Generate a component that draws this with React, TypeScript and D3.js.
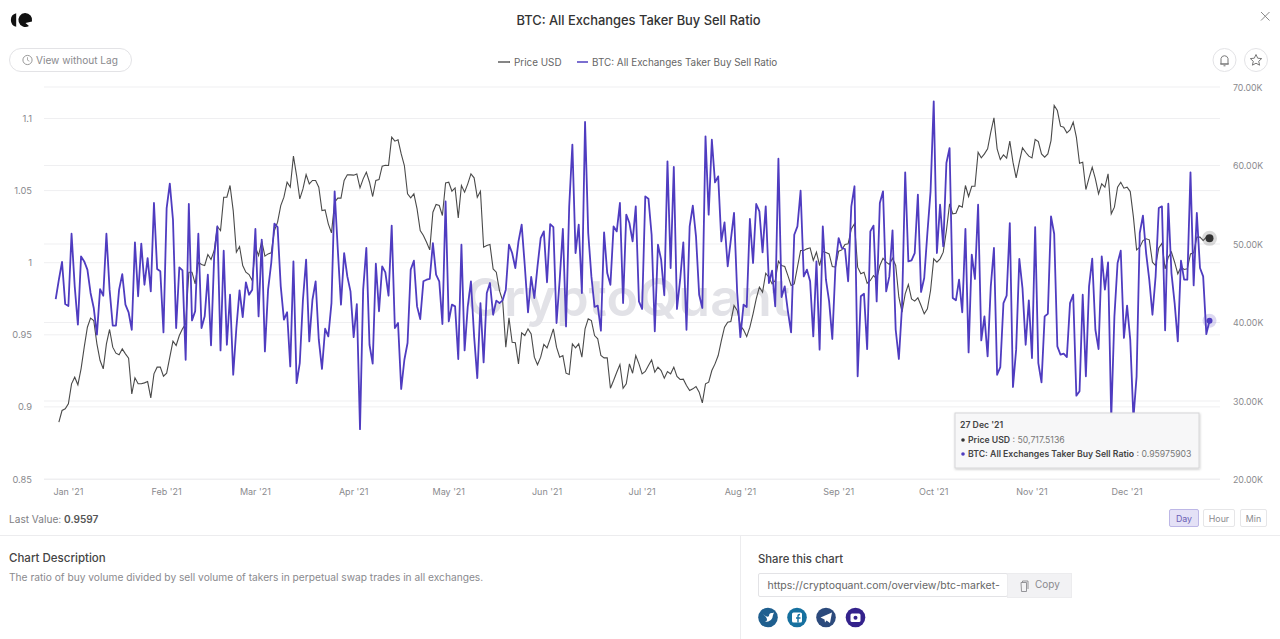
import React from "react";
import * as d3 from "d3";

const ratioValues = [
0.9748,0.9882,1.0005,0.9713,0.9700,1.0201,0.9836,0.9570,1.0044,1.0009,0.9952,0.9790,0.9686,0.9501,0.9817,0.9771,1.0201,0.9813,0.9563,0.9563,
0.9813,0.9921,0.9709,0.9656,0.9535,1.0141,0.9767,1.0132,0.9847,1.0032,0.9801,1.0414,0.9956,0.9940,0.9517,1.0379,1.0548,1.0298,0.9547,0.9968,
0.9947,0.9327,1.0407,0.9600,0.9663,1.0201,0.9547,0.9628,0.9917,0.9427,1.0044,1.0252,0.9392,1.0083,0.9431,0.9778,0.9223,0.9547,0.9808,0.9623,
0.9864,0.9778,0.9813,1.0234,0.9628,1.0160,0.9385,0.9813,0.9998,1.0271,1.0247,0.9836,0.9605,0.9656,0.9281,1.0009,0.9165,0.9304,0.9743,1.0021,
0.9454,0.9743,0.9871,0.9466,0.9263,0.9542,0.9489,0.9720,1.0495,
1.0090,0.9709,1.0067,0.9905,0.9801,0.9484,0.9713,0.8846,0.9813,1.0102,0.9431,0.9300,0.9993,0.9663,0.9975,0.9933,0.9771,1.0257,0.9547,0.9582,
0.9124,0.9327,0.9443,0.9952,1.0014,0.9697,0.9609,0.9871,0.9882,0.9887,1.0136,0.9917,0.9871,0.9575,1.0425,0.9593,0.9709,0.9697,0.9332,1.0125,
0.9392,0.9697,0.9871,0.9489,0.9200,0.9720,0.9309,0.9790,0.9859,0.9639,0.9737,0.9720,0.9739,0.9813,1.0125,1.0067,0.9963,1.0148,1.0264,0.9975,
0.9656,0.9901,0.9755,0.9975,1.0171,1.0217,0.9864,1.0268,1.0247,0.9582,0.9882,1.0234,0.9558,1.0391,1.0819,1.0067,1.0264,0.9790,1.0976,1.0206,
0.9905,0.9693,0.9702,0.9528,1.0210,0.9928,0.9847,1.0252,1.0217,1.0414,0.9720,1.0333,1.0275,
1.0148,1.0391,0.9732,0.9679,1.0460,1.0444,1.0194,0.9524,1.0125,1.0021,0.9774,1.0703,0.9963,1.0664,0.9679,0.9882,1.0141,0.9535,1.0252,1.0395,
1.0183,0.9778,0.9686,1.0876,1.0333,1.0853,1.0557,1.0599,1.0148,1.0280,0.9975,1.0160,1.0345,0.9790,0.9484,0.9709,0.9693,1.0303,0.9998,1.0407,
1.0356,1.0072,1.0391,0.9859,0.9945,0.9697,1.0721,0.9762,0.9836,0.9663,0.9517,1.0194,1.0252,1.0499,0.9905,0.9952,0.9871,0.9489,1.0009,0.9397,
1.0252,0.9882,0.9732,0.9471,0.9975,1.0171,1.0102,1.0095,0.9871,1.0391,1.0530,0.9212,0.9767,0.9785,0.9401,1.0217,1.0257,0.9732,1.0414,1.0495,
0.9801,0.9905,1.0224,0.9535,0.9332,0.9697,1.0627,1.0009,1.0016,1.0067,1.0472,
0.9797,0.9894,1.0206,1.0495,1.1119,1.0067,1.0402,1.0113,1.0691,1.0795,0.9755,0.9739,0.9882,0.9656,1.0234,0.9378,1.0056,0.9887,1.0402,0.9461,
0.9628,0.9350,0.9836,1.0102,0.9223,0.9276,0.9720,0.9771,1.0275,0.9138,0.9397,1.0026,0.9824,0.9431,0.9739,0.9339,1.0247,0.9304,0.9170,0.9628,
0.9646,1.0321,1.0201,0.9420,0.9362,0.9369,0.9346,0.9720,0.9778,0.9078,0.9108,0.9778,0.9212,0.9836,1.0028,0.9535,0.9401,1.0044,0.9813,1.0002,
0.8920,0.9628,0.9998,1.0083,0.9478,0.9702,0.9466,0.8920,0.9212,1.0206,1.0326,1.0067,0.9882,0.9639,0.9905,1.0379,1.0391,0.9531,1.0409,0.9928,
0.9720,0.9454,1.0014,0.9882,0.9882,1.0627,0.9843,1.0345,0.9963,0.9905,0.9505,0.95975903,
];

const priceKValues = [
27.30,28.79,29.00,29.64,32.19,33.03,32.06,34.10,36.86,39.40,40.55,40.25,37.28,35.16,34.10,37.28,39.11,36.86,36.09,35.88,
36.64,36.01,35.45,30.91,32.95,32.19,32.19,32.31,32.48,30.40,33.46,34.31,34.31,33.16,33.54,35.58,37.62,37.07,38.34,39.19,
39.83,46.41,46.41,44.92,47.68,47.39,47.26,48.66,48.02,49.17,52.23,51.72,55.96,55.96,57.45,54.26,48.96,49.68,47.26,46.41,
46.11,45.35,49.59,48.53,50.36,48.45,48.74,48.87,51.72,52.78,54.90,55.96,57.87,57.24,61.19,58.72,55.75,57.02,58.85,57.66,
58.09,58.09,57.24,54.26,54.35,52.57,51.42,55.33,55.84,
55.84,58.09,58.81,58.81,58.77,58.93,57.15,58.30,59.15,57.87,56.05,58.09,58.21,59.91,60.04,60.00,63.61,63.10,63.27,61.48,
60.00,56.39,55.88,56.39,54.48,51.72,51.08,50.23,49.25,54.05,55.03,54.90,53.63,57.79,57.87,56.73,57.15,53.33,57.45,56.60,
57.66,58.93,58.43,55.96,56.73,49.59,49.81,49.93,46.83,46.41,44.07,42.80,36.86,40.59,37.49,37.41,34.73,38.68,38.34,39.19,
38.55,35.58,34.61,35.58,37.20,36.77,37.92,39.19,36.86,35.58,35.79,33.54,33.37,37.28,36.77,37.28,35.58,39.19,40.46,40.25,
38.34,37.92,35.79,35.50,35.50,31.63,32.61,33.67,34.65,31.63,32.19,34.73,
33.54,35.79,34.73,33.46,33.76,34.52,35.24,33.67,34.31,33.88,32.91,33.76,33.46,34.31,33.12,32.74,32.78,31.97,31.34,31.55,
31.85,31.12,29.76,32.19,32.40,33.88,34.73,35.79,37.70,39.40,40.04,40.13,42.16,41.53,39.62,39.06,38.21,39.40,41.10,43.01,
44.50,43.86,46.28,45.77,44.92,45.35,47.81,47.26,47.13,45.98,44.71,44.92,47.05,49.17,49.17,49.38,49.51,47.90,48.96,47.26,
49.04,48.91,48.74,47.13,47.05,49.08,49.25,49.93,50.02,51.93,52.57,47.05,46.20,46.41,45.01,45.35,45.98,45.56,47.26,48.19,
47.68,47.39,48.19,47.26,43.22,41.31,43.65,44.84,43.01,42.72,43.14,
42.16,41.10,41.74,44.07,48.11,47.68,48.11,48.96,51.72,55.11,53.84,53.92,54.90,54.69,57.45,56.05,57.36,57.36,61.69,60.97,
61.48,62.12,64.24,66.07,62.12,60.76,61.36,60.93,63.10,60.42,58.43,60.42,62.25,61.69,61.19,60.97,63.31,63.05,61.48,61.06,
61.48,63.18,67.64,67.00,65.01,64.88,64.16,64.54,65.52,63.61,60.29,60.42,56.94,58.43,59.78,58.30,56.39,57.66,57.24,58.93,
53.84,54.69,57.24,57.87,57.11,57.24,56.68,53.42,49.25,49.59,50.44,50.66,50.53,47.68,47.26,49.51,50.10,46.83,48.32,48.96,
47.68,46.20,47.05,46.75,46.83,48.74,48.87,50.87,50.87,50.44,50.87,50.7175,
];

const leftTicks = [0.85, 0.9, 0.95, 1, 1.05, 1.1];
const leftTickLabels = ["0.85", "0.9", "0.95", "1", "1.05", "1.1"];
const rightTicks = [20, 30, 40, 50, 60, 70];
const rightTickLabels = ["20.00K", "30.00K", "40.00K", "50.00K", "60.00K", "70.00K"];
const monthTicks = ["2021-01-01","2021-02-01","2021-03-01","2021-04-01","2021-05-01","2021-06-01","2021-07-01","2021-08-01","2021-09-01","2021-10-01","2021-11-01","2021-12-01"];
const monthLabels = ["Jan '21","Feb '21","Mar '21","Apr '21","May '21","Jun '21","Jul '21","Aug '21","Sep '21","Oct '21","Nov '21","Dec '21"];

const FONT = "'Inter', 'Noto Sans', sans-serif";
const LAST = Date.UTC(2021, 11, 27);
const DAY = 86400000;
const dateFromEnd = (i: number, n: number) => new Date(LAST - (n - 1 - i) * DAY);

const x = d3.scaleUtc().domain([new Date(Date.UTC(2020, 11, 28)), new Date(LAST)]).range([55.7, 1209.5]);
const yL = d3.scaleLinear().domain([0.85, 1.1]).range([479, 118.5]);
const yR = d3.scaleLinear().domain([20, 70]).range([479.5, 87]);

const ratioPts = ratioValues.map((v, i) => ({ d: dateFromEnd(i, ratioValues.length), v }));
const pricePts = priceKValues.map((v, i) => ({ d: dateFromEnd(i, priceKValues.length), v }));
const ratioPath = d3.line<{ d: Date; v: number }>().x((p) => x(p.d)).y((p) => yL(p.v))(ratioPts) || "";
const pricePath = d3.line<{ d: Date; v: number }>().x((p) => x(p.d)).y((p) => yR(p.v))(pricePts) || "";

const T = (p: any) => <text fontFamily={FONT} {...p} />;

export default function App() {
  const lastR = ratioValues[ratioValues.length - 1];
  const lastP = priceKValues[priceKValues.length - 1];
  const lx = x(new Date(LAST));
  return (
    <svg width={1280} height={639} style={{ position: "fixed", left: 0, top: 0, background: "#fff" }}>
      <defs>
        <filter id="tipShadow" x="-5%" y="-10%" width="110%" height="125%">
          <feDropShadow dx="0.5" dy="1" stdDeviation="1" floodColor="#000" floodOpacity="0.22" />
        </filter>
      </defs>
      {/* header */}
      <g fill="#111">
        <path d="M16.2 13.2 A7 7 0 0 0 16.2 26.8 Z" transform="translate(0 0)" />
        <path d="M25 13 A7 7 0 1 0 29 26 L25.5 23 L32 21.5 A7 7 0 0 0 25 13 Z" />
      </g>
      <T x={638.5} y={24.5} textAnchor="middle" fontSize={12.9} fontWeight={500} fill="#333">BTC: All Exchanges Taker Buy Sell Ratio</T>
      <path d="M1261 12 L1269.5 20.5 M1269.5 12 L1261 20.5" stroke="#888" strokeWidth={1} fill="none" />
      <rect x={9.5} y={48.5} width={122} height={23} rx={11.5} fill="#fff" stroke="#e3e3e6" />
      <circle cx={27.5} cy={60} r={4.6} fill="none" stroke="#999" />
      <path d="M27.5 57.2 V60.2 L29.4 61.2" fill="none" stroke="#999" strokeWidth={0.8} />
      <T x={36} y={63.7} fontSize={10.1} fill="#8a8a8e">View without Lag</T>
      <line x1={498} x2={510} y1={62} y2={62} stroke="#444" strokeWidth={1.3} />
      <T x={514} y={65.7} fontSize={9.9} fill="#666">Price USD</T>
      <line x1={577} x2={588} y1={62} y2={62} stroke="#4f3fc0" strokeWidth={1.5} />
      <T x={592} y={65.7} fontSize={9.9} fill="#666">BTC: All Exchanges Taker Buy Sell Ratio</T>
      <circle cx={1224.5} cy={60} r={11.5} fill="#fff" stroke="#e3e3e6" />
      <path d="M1221 64 V58.5 A3.6 3.6 0 0 1 1228 58.5 V64 Z M1220 64 H1229 M1223.5 65.8 H1225.5" fill="none" stroke="#777" />
      <circle cx={1256} cy={60} r={11.5} fill="#fff" stroke="#e3e3e6" />
      <path d="M1256 54.5 L1257.7 58.2 L1261.7 58.6 L1258.7 61.3 L1259.6 65.2 L1256 63.2 L1252.4 65.2 L1253.3 61.3 L1250.3 58.6 L1254.3 58.2 Z" fill="none" stroke="#777" />

      {/* grid */}
      {leftTicks.map((t) => (
        <line key={`l${t}`} x1={44} x2={1220} y1={yL(t)} y2={yL(t)} stroke="#efeff1" strokeWidth={1} />
      ))}
      {rightTicks.map((t) => (
        <line key={`r${t}`} x1={44} x2={1220} y1={yR(t)} y2={yR(t)} stroke="#efeff1" strokeWidth={1} />
      ))}
      {/* watermark */}
      <T x={628} y={316} textAnchor="middle" fontSize={52} fontWeight={600} fill="#e2e2e7">CryptoQuant</T>

      {/* axes */}
      {leftTicks.map((t, i) => (
        <T key={t} x={32} y={yL(t) + 3.5} textAnchor="end" fontSize={9.3} fill="#8a8a8e">{leftTickLabels[i]}</T>
      ))}
      {rightTicks.map((t, i) => (
        <T key={t} x={1233} y={yR(t) + 3.5} fontSize={8.8} fill="#8a8a8e">{rightTickLabels[i]}</T>
      ))}
      {monthTicks.map((m, i) => (
        <T key={m} x={x(new Date(m + "T00:00:00Z"))} y={495} textAnchor="middle" fontSize={9} fill="#8a8a8e">{monthLabels[i]}</T>
      ))}

      {/* series */}
      <path d={pricePath} fill="none" stroke="#4a4a4a" strokeWidth={1.1} />
      <path d={ratioPath} fill="none" stroke="#4f3cc0" strokeWidth={1.8} strokeLinejoin="round" />

      {/* markers */}
      <circle cx={lx} cy={yR(lastP)} r={7.5} fill="#444" fillOpacity={0.2} />
      <circle cx={lx} cy={yR(lastP)} r={4} fill="#333" />
      <circle cx={lx} cy={yL(lastR)} r={7} fill="#4f3cc0" fillOpacity={0.2} />
      <circle cx={lx} cy={yL(lastR)} r={3} fill="#4f3cc0" />

      {/* tooltip */}
      <rect x={955} y={413} width={244} height={55} fill="#f7f7f8" stroke="#d6d6d8" filter="url(#tipShadow)" />
      <T x={960} y={428} fontSize={8.7} fontWeight={600} fill="#444">27 Dec '21</T>
      <circle cx={963} cy={440} r={1.8} fill="#333" />
      <T x={968} y={443} fontSize={8.7} fontWeight={600} fill="#444">Price USD<tspan fontWeight={400} fill="#777"> : 50,717.5136</tspan></T>
      <circle cx={963} cy={454} r={1.8} fill="#4f3cc0" />
      <T x={968} y={457} fontSize={8.7} fontWeight={600} fill="#444">BTC: All Exchanges Taker Buy Sell Ratio<tspan fontWeight={400} fill="#777"> : 0.95975903</tspan></T>

      {/* footer */}
      <T x={9} y={523} fontSize={10.1} fill="#808084">Last Value: <tspan fontWeight={600} fill="#555">0.9597</tspan></T>
      <rect x={1169.5} y={509.5} width={29} height={17} rx={1.5} fill="#e4e1f6" stroke="#bdb7e6" />
      <T x={1184} y={521.5} textAnchor="middle" fontSize={8.8} fill="#6a60b5">Day</T>
      <rect x={1203.5} y={509.5} width={31} height={17} rx={1.5} fill="#fff" stroke="#e6e6e8" />
      <T x={1219} y={521.5} textAnchor="middle" fontSize={8.8} fill="#8a8a8e">Hour</T>
      <rect x={1240.5} y={509.5} width={26} height={17} rx={1.5} fill="#fff" stroke="#e6e6e8" />
      <T x={1253.5} y={521.5} textAnchor="middle" fontSize={8.8} fill="#8a8a8e">Min</T>
      <line x1={0} x2={1280} y1={535.5} y2={535.5} stroke="#ececee" />
      <line x1={740.5} x2={740.5} y1={535} y2={639} stroke="#ececee" />
      <T x={9} y={562} fontSize={11.5} fontWeight={500} fill="#444">Chart Description</T>
      <T x={9} y={581} fontSize={10.2} fill="#8a8a8e">The ratio of buy volume divided by sell volume of takers in perpetual swap trades in all exchanges.</T>
      <T x={758} y={562.5} fontSize={11.3} fontWeight={500} fill="#444">Share this chart</T>
      <rect x={758.5} y={573.5} width={249} height={23} rx={1.5} fill="#fff" stroke="#e3e3e6" />
      <T x={767.5} y={589} fontSize={10.5} fill="#666">https://cryptoquant.com/overview/btc-market-</T>
      <rect x={1007.5} y={573.5} width={64} height={24} fill="#f2f2f4" stroke="#ececee" />
      <path d="M1021 582.5 H1026.5 V591.5 H1021.5 Z M1022.5 582.5 V581 H1028 V589" fill="none" stroke="#8a8a8e" strokeWidth={0.9} />
      <T x={1035} y={588} fontSize={10} fill="#8a8a8e">Copy</T>
      <circle cx={768} cy={617.5} r={9.8} fill="#1f5f8f" />
      <path d="M763 614 Q767 618 769 616 Q769 612.5 772.5 613 L774 612.5 L773 615 Q772.5 622 765 622 Q770 620 763 614 Z" fill="#fff" />
      <circle cx={797} cy={617.5} r={9.8} fill="#16709f" />
      <rect x={792} y={612.5} width={10} height={10} rx={1.5} fill="#fff" />
      <path d="M798 622.5 V616 Q798 614.5 800 614.5 M796 618 H800.5" stroke="#16709f" strokeWidth={1.4} fill="none" />
      <circle cx={826} cy={617.5} r={9.8} fill="#2c4a7c" />
      <path d="M820.5 617.5 L832 612.5 L830 623 L826.5 620.5 L825 622.5 L824.5 619.5 Z" fill="#fff" />
      <circle cx={855.5} cy={617.5} r={9.8} fill="#34228c" />
      <rect x={850.5} y={613.5} width={10} height={8.5} rx={1.5} fill="#fff" />
      <circle cx={855.5} cy={617.7} r={2} fill="#34228c" />
    </svg>
  );
}
